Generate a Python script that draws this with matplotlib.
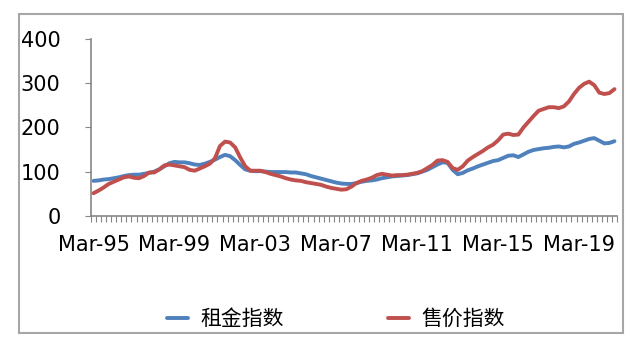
import matplotlib
matplotlib.use("Agg")
import matplotlib.pyplot as plt
from matplotlib.patches import Rectangle
import numpy as np

plt.rcParams['font.family'] = ['DejaVu Sans', 'Noto Sans CJK SC']

series_names = ["租金指数", "售价指数"]
tick_labels = ["Mar-95", "Mar-99", "Mar-03", "Mar-07", "Mar-11", "Mar-15", "Mar-19"]

rent_index = [
    79, 80, 82, 83, 85, 87, 90, 92, 93, 93, 95, 97, 100, 105, 112, 119,
    122, 121, 121, 119, 116, 115, 118, 122, 127, 133, 138, 135, 126, 115, 105, 102,
    101, 101, 100, 99, 99, 99, 99, 98, 98, 96, 94, 90, 87, 84, 81, 78,
    75, 73, 72, 72, 74, 77, 79, 80, 82, 85, 87, 89, 90, 91, 92, 94,
    96, 100, 104, 110, 116, 121, 120, 104, 94, 97, 103, 107, 112, 116, 120, 124,
    126, 131, 136, 137, 133, 139, 145, 149, 151, 153, 154, 156, 157, 155, 157, 163,
    166, 170, 174, 176, 170, 164, 165, 169,
]

price_index = [
    51, 57, 64, 72, 77, 82, 87, 89, 86, 85, 90, 98, 98, 105, 114, 116,
    114, 112, 110, 104, 102, 107, 112, 118, 130, 158, 168, 166, 155, 132, 112, 102,
    102, 102, 99, 95, 92, 89, 85, 82, 80, 79, 76, 74, 72, 70, 66, 63,
    61, 59, 60, 66, 74, 79, 82, 86, 92, 95, 93, 91, 92, 92, 93, 95,
    97, 101, 108, 115, 125, 126, 122, 108, 104, 112, 125, 133, 140, 147, 155, 161,
    171, 184, 186, 183, 184, 200, 213, 226, 238, 242, 246, 246, 244, 248, 259, 276,
    290, 299, 304, 296, 279, 276, 278, 287,
]

n = len(rent_index)
x = np.arange(n)

fig = plt.figure(figsize=(6.4, 3.43), dpi=100)
fig.patch.set_facecolor("white")

# outer chart border
fig.patches.append(Rectangle((19/640, 10/343), 604/640, 319/343, transform=fig.transFigure,
                             fill=False, edgecolor="#a6a6a6", linewidth=1.5))

ax = fig.add_axes([91/640, (343-215.7)/343, 526/640, 176.4/343])
ax.plot(x, rent_index, color="#4F81BD", linewidth=2.8, label=series_names[0], solid_capstyle="round")
ax.plot(x, price_index, color="#C0504D", linewidth=2.8, label=series_names[1], solid_capstyle="round")

ax.set_xlim(-0.5, n - 0.5)
ax.set_ylim(0, 400)
ax.set_yticks([0, 100, 200, 300, 400])
ax.set_xticks(np.arange(0, n, 16))
ax.set_xticklabels(tick_labels[:len(np.arange(0, n, 16))])
ax.set_xticks(np.arange(-0.5, n, 1), minor=True)

for s in ["top", "right"]:
    ax.spines[s].set_visible(False)
for s in ["left", "bottom"]:
    ax.spines[s].set_color("#868686")
    ax.spines[s].set_linewidth(1.2)

ax.tick_params(axis="y", length=4, color="#868686", labelsize=15, pad=18)
ax.tick_params(axis="x", which="major", length=0, labelsize=15, pad=14)
ax.tick_params(axis="x", which="minor", length=4, color="#868686", width=0.8)

fig.legend(loc="center", bbox_to_anchor=(336/640, 1 - 319/343), ncol=2, frameon=False,
           fontsize=15, handlelength=1.0, handletextpad=0.6, columnspacing=5.0)

fig.savefig("out.png", dpi=100)
